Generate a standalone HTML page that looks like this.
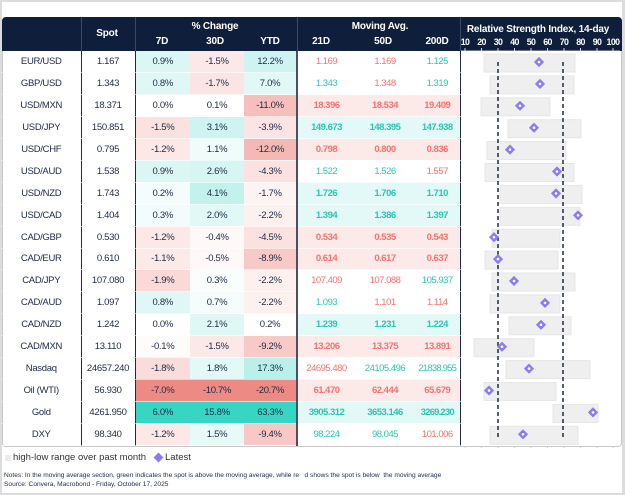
<!DOCTYPE html>
<html><head><meta charset="utf-8"><style>
*{margin:0;padding:0;box-sizing:border-box}
body{width:625px;height:495px;background:#fff;position:relative;overflow:hidden;font-family:"Liberation Sans",sans-serif;color:#1e2a44}
.frame{position:absolute;left:0;top:0;width:625px;height:495px;border:2px solid #dcdcdc;border-right-width:3px}
.box{position:absolute;left:2px;top:17px;width:620px;height:430px;border:1px solid #c8c8c8;border-radius:4px;overflow:hidden}
.hdr{position:absolute;left:2px;top:17px;width:620px;height:34px;background:#0f1f3b;border-radius:4px 4px 0 0}
.h{position:absolute;color:#fff;font-weight:bold;font-size:10px;transform:translateX(-50%);white-space:nowrap;letter-spacing:-0.2px}
.t{font-size:8.8px;letter-spacing:-0.6px;top:37px}
table{position:absolute;left:2px;top:51px;width:458px;border-collapse:collapse;table-layout:fixed;font-size:9.5px;letter-spacing:-0.3px}
td{height:21.9px;text-align:center;padding:0;white-space:nowrap;border-bottom:1px solid rgba(255,255,255,.6)}
td.c1{border-right:1.5px solid #1e2a44}
td.c2{border-right:1.5px solid #1e2a44}
td.c5{border-right:2px solid #4a5060}
td.c8{border-right:1.5px solid #1e2a44}
td.m{letter-spacing:-0.5px}
.g{color:#2ec4b2}.r{color:#f07470}
.b td.m{font-weight:bold}
.note{position:absolute;left:4px;font-size:6.6px;color:#1e2a50;white-space:nowrap}
</style></head><body>
<div class="frame"></div>
<div class="box"></div>
<div class="hdr"></div>
<div class="h" style="left:107px;top:28px">Spot</div>
<div class="h" style="left:215px;top:21px">% Change</div>
<div class="h" style="left:162px;top:36px">7D</div>
<div class="h" style="left:215px;top:36px">30D</div>
<div class="h" style="left:270px;top:36px">YTD</div>
<div class="h" style="left:380px;top:21px">Moving Avg.</div>
<div class="h" style="left:321px;top:36px">21D</div>
<div class="h" style="left:383px;top:36px">50D</div>
<div class="h" style="left:437px;top:36px">200D</div>
<div class="h" style="left:538px;top:24px">Relative Strength Index, 14-day</div>
<div class="h t" style="left:465px">10</div>
<div class="h t" style="left:481.5px">20</div>
<div class="h t" style="left:498px">30</div>
<div class="h t" style="left:514.5px">40</div>
<div class="h t" style="left:531px">50</div>
<div class="h t" style="left:547.5px">60</div>
<div class="h t" style="left:564px">70</div>
<div class="h t" style="left:580.5px">80</div>
<div class="h t" style="left:597px">90</div>
<div class="h t" style="left:613px">100</div>
<div style="position:absolute;left:81px;top:17px;width:1px;height:34px;background:#3a4a66"></div>
<div style="position:absolute;left:135px;top:17px;width:1px;height:34px;background:#3a4a66"></div>
<div style="position:absolute;left:297px;top:17px;width:1px;height:34px;background:#3a4a66"></div>
<div style="position:absolute;left:460px;top:17px;width:1px;height:34px;background:#3a4a66"></div>

<table>
<colgroup><col style="width:79px"><col style="width:54px"><col style="width:55px"><col style="width:54px"><col style="width:53px"><col style="width:58px"><col style="width:60px"><col style="width:45px"></colgroup>
<tr><td class="c1">EUR/USD</td><td class="c2">1.167</td><td style="background:rgba(56,212,196,.18)">0.9%</td><td style="background:rgba(238,138,132,.2)">-1.5%</td><td class="c5" style="background:rgba(56,212,196,.25)">12.2%</td><td class="m r">1.169</td><td class="m r">1.169</td><td class="m g c8">1.125</td></tr>
<tr><td class="c1">GBP/USD</td><td class="c2">1.343</td><td style="background:rgba(56,212,196,.16)">0.8%</td><td style="background:rgba(238,138,132,.22)">-1.7%</td><td class="c5" style="background:rgba(56,212,196,.15)">7.0%</td><td class="m g">1.343</td><td class="m r">1.348</td><td class="m g c8">1.319</td></tr>
<tr class="b"><td class="c1">USD/MXN</td><td class="c2">18.371</td><td>0.0%</td><td>0.1%</td><td class="c5" style="background:rgba(238,138,132,.55)">-11.0%</td><td class="m r" style="background:rgba(238,138,132,.18)">18.396</td><td class="m r" style="background:rgba(238,138,132,.18)">18.534</td><td class="m r c8" style="background:rgba(238,138,132,.18)">19.409</td></tr>
<tr class="b"><td class="c1">USD/JPY</td><td class="c2">150.851</td><td style="background:rgba(238,138,132,.25)">-1.5%</td><td style="background:rgba(56,212,196,.25)">3.1%</td><td class="c5" style="background:rgba(238,138,132,.22)">-3.9%</td><td class="m g" style="background:rgba(56,212,196,.14)">149.673</td><td class="m g" style="background:rgba(56,212,196,.14)">148.395</td><td class="m g c8" style="background:rgba(56,212,196,.14)">147.938</td></tr>
<tr class="b"><td class="c1">USD/CHF</td><td class="c2">0.795</td><td style="background:rgba(238,138,132,.2)">-1.2%</td><td style="background:rgba(56,212,196,.08)">1.1%</td><td class="c5" style="background:rgba(238,138,132,.6)">-12.0%</td><td class="m r" style="background:rgba(238,138,132,.18)">0.798</td><td class="m r" style="background:rgba(238,138,132,.18)">0.800</td><td class="m r c8" style="background:rgba(238,138,132,.18)">0.836</td></tr>
<tr><td class="c1">USD/AUD</td><td class="c2">1.538</td><td style="background:rgba(56,212,196,.18)">0.9%</td><td style="background:rgba(56,212,196,.2)">2.6%</td><td class="c5" style="background:rgba(238,138,132,.25)">-4.3%</td><td class="m g">1.522</td><td class="m g">1.526</td><td class="m r c8">1.557</td></tr>
<tr class="b"><td class="c1">USD/NZD</td><td class="c2">1.743</td><td style="background:rgba(56,212,196,.05)">0.2%</td><td style="background:rgba(56,212,196,.3)">4.1%</td><td class="c5" style="background:rgba(238,138,132,.1)">-1.7%</td><td class="m g" style="background:rgba(56,212,196,.14)">1.726</td><td class="m g" style="background:rgba(56,212,196,.14)">1.706</td><td class="m g c8" style="background:rgba(56,212,196,.14)">1.710</td></tr>
<tr class="b"><td class="c1">USD/CAD</td><td class="c2">1.404</td><td style="background:rgba(56,212,196,.06)">0.3%</td><td style="background:rgba(56,212,196,.15)">2.0%</td><td class="c5" style="background:rgba(238,138,132,.12)">-2.2%</td><td class="m g" style="background:rgba(56,212,196,.14)">1.394</td><td class="m g" style="background:rgba(56,212,196,.14)">1.386</td><td class="m g c8" style="background:rgba(56,212,196,.14)">1.397</td></tr>
<tr class="b"><td class="c1">CAD/GBP</td><td class="c2">0.530</td><td style="background:rgba(238,138,132,.2)">-1.2%</td><td style="background:rgba(238,138,132,.05)">-0.4%</td><td class="c5" style="background:rgba(238,138,132,.25)">-4.5%</td><td class="m r" style="background:rgba(238,138,132,.18)">0.534</td><td class="m r" style="background:rgba(238,138,132,.18)">0.535</td><td class="m r c8" style="background:rgba(238,138,132,.18)">0.543</td></tr>
<tr class="b"><td class="c1">CAD/EUR</td><td class="c2">0.610</td><td style="background:rgba(238,138,132,.18)">-1.1%</td><td style="background:rgba(238,138,132,.06)">-0.5%</td><td class="c5" style="background:rgba(238,138,132,.45)">-8.9%</td><td class="m r" style="background:rgba(238,138,132,.18)">0.614</td><td class="m r" style="background:rgba(238,138,132,.18)">0.617</td><td class="m r c8" style="background:rgba(238,138,132,.18)">0.637</td></tr>
<tr><td class="c1">CAD/JPY</td><td class="c2">107.080</td><td style="background:rgba(238,138,132,.32)">-1.9%</td><td style="background:rgba(56,212,196,.03)">0.3%</td><td class="c5" style="background:rgba(238,138,132,.12)">-2.2%</td><td class="m r">107.409</td><td class="m r">107.088</td><td class="m g c8">105.937</td></tr>
<tr><td class="c1">CAD/AUD</td><td class="c2">1.097</td><td style="background:rgba(56,212,196,.16)">0.8%</td><td style="background:rgba(56,212,196,.05)">0.7%</td><td class="c5" style="background:rgba(238,138,132,.12)">-2.2%</td><td class="m g">1.093</td><td class="m r">1.101</td><td class="m r c8">1.114</td></tr>
<tr class="b"><td class="c1">CAD/NZD</td><td class="c2">1.242</td><td>0.0%</td><td style="background:rgba(56,212,196,.16)">2.1%</td><td class="c5">0.2%</td><td class="m g" style="background:rgba(56,212,196,.14)">1.239</td><td class="m g" style="background:rgba(56,212,196,.14)">1.231</td><td class="m g c8" style="background:rgba(56,212,196,.14)">1.224</td></tr>
<tr class="b"><td class="c1">CAD/MXN</td><td class="c2">13.110</td><td style="background:rgba(238,138,132,.03)">-0.1%</td><td style="background:rgba(238,138,132,.2)">-1.5%</td><td class="c5" style="background:rgba(238,138,132,.45)">-9.2%</td><td class="m r" style="background:rgba(238,138,132,.18)">13.206</td><td class="m r" style="background:rgba(238,138,132,.18)">13.375</td><td class="m r c8" style="background:rgba(238,138,132,.18)">13.891</td></tr>
<tr><td class="c1">Nasdaq</td><td class="c2">24657.240</td><td style="background:rgba(238,138,132,.3)">-1.8%</td><td style="background:rgba(56,212,196,.14)">1.8%</td><td class="c5" style="background:rgba(56,212,196,.35)">17.3%</td><td class="m r">24695.480</td><td class="m g">24105.496</td><td class="m g c8" style="letter-spacing:-0.8px">21838.955</td></tr>
<tr class="b"><td class="c1">Oil (WTI)</td><td class="c2">56.930</td><td style="background:rgb(238,138,132)">-7.0%</td><td style="background:rgb(238,138,132)">-10.7%</td><td class="c5" style="background:rgb(238,138,132)">-20.7%</td><td class="m r" style="background:rgba(238,138,132,.18)">61.470</td><td class="m r" style="background:rgba(238,138,132,.18)">62.444</td><td class="m r c8" style="background:rgba(238,138,132,.18)">65.679</td></tr>
<tr class="b"><td class="c1">Gold</td><td class="c2">4261.950</td><td style="background:rgb(56,212,196)">6.0%</td><td style="background:rgb(56,212,196)">15.8%</td><td class="c5" style="background:rgb(56,212,196)">63.3%</td><td class="m g" style="background:rgba(56,212,196,.14)">3905.312</td><td class="m g" style="background:rgba(56,212,196,.14)">3653.146</td><td class="m g c8" style="background:rgba(56,212,196,.14);letter-spacing:-0.8px">3269.230</td></tr>
<tr><td class="c1">DXY</td><td class="c2">98.340</td><td style="background:rgba(238,138,132,.2)">-1.2%</td><td style="background:rgba(56,212,196,.12)">1.5%</td><td class="c5" style="background:rgba(238,138,132,.47)">-9.4%</td><td class="m g">98.224</td><td class="m g">98.045</td><td class="m r c8">101.006</td></tr>
</table>

<svg style="position:absolute;left:0;top:0" width="625" height="495">
<defs><g id="d"><rect x="-3.6" y="-3.6" width="7.2" height="7.2" transform="rotate(45)" fill="#8a7cf2"/><circle r="1.3" fill="#fff"/></g></defs>
<g stroke="#fff" stroke-width="0.8"><line x1="461" y1="51" x2="620" y2="51"/>
<path d="M465 48v3M481.5 48v3M498 48v3M514.5 48v3M531 48v3M547.5 48v3M564 48v3M580.5 48v3M597 48v3M613 48v3"/></g>
<g fill="#efefef" stroke="#e6e6e6" stroke-width="1">
<rect x="484" y="54" width="91" height="18"/>
<rect x="490" y="75.9" width="84" height="18"/>
<rect x="481" y="97.8" width="69" height="18"/>
<rect x="508" y="119.7" width="73" height="18"/>
<rect x="487" y="141.6" width="79" height="18"/>
<rect x="485" y="163.5" width="89" height="18"/>
<rect x="500" y="185.4" width="82" height="18"/>
<rect x="500" y="207.3" width="80" height="18"/>
<rect x="492" y="229.2" width="68" height="18"/>
<rect x="485" y="251.1" width="73" height="18"/>
<rect x="492" y="273" width="83" height="18"/>
<rect x="490" y="294.9" width="70" height="18"/>
<rect x="509" y="316.8" width="62" height="18"/>
<rect x="474" y="338.7" width="60" height="18"/>
<rect x="506" y="360.6" width="84" height="18"/>
<rect x="484" y="382.5" width="72" height="18"/>
<rect x="553" y="404.4" width="45" height="18"/>
<rect x="490" y="426.3" width="88" height="18"/>
</g>
<g stroke="#1e2a44" stroke-width="1.5" stroke-dasharray="4,3">
<line x1="498" y1="62" x2="498" y2="440"/><line x1="563" y1="62" x2="563" y2="440"/></g>
<use href="#d" x="539" y="62"/><use href="#d" x="540" y="83.9"/><use href="#d" x="520" y="105.8"/>
<use href="#d" x="534" y="127.7"/><use href="#d" x="510" y="149.6"/><use href="#d" x="557" y="171.5"/>
<use href="#d" x="556" y="193.4"/><use href="#d" x="578" y="215.3"/><use href="#d" x="494" y="237.2"/>
<use href="#d" x="498" y="259.1"/><use href="#d" x="514" y="281"/><use href="#d" x="545" y="302.9"/>
<use href="#d" x="541" y="324.8"/><use href="#d" x="502" y="346.7"/><use href="#d" x="529" y="368.6"/>
<use href="#d" x="489" y="390.5"/><use href="#d" x="593" y="412.4"/><use href="#d" x="523" y="434.3"/>
<g stroke="#ccc" stroke-width="1"><path d="M465 446v2M481.5 446v2M498 446v2M514.5 446v2M531 446v2M547.5 446v2M564 446v2M580.5 446v2M597 446v2M613 446v2"/></g>
<rect x="5" y="455" width="6" height="6" fill="#ececec"/>
<rect x="155" y="454" width="7" height="7" transform="rotate(45 158.5 457.5)" fill="#8a7cf2"/>
</svg>
<div style="position:absolute;left:13px;top:452px;font-size:9.5px;color:#333">high-low range over past month</div>
<div style="position:absolute;left:165px;top:452px;font-size:9.5px;color:#333">Latest</div>
<div class="note" style="top:472px">Notes: In the moving average section, green indicates the spot is above the moving average, while re&nbsp;&nbsp;&nbsp;d shows the spot is below&nbsp; the moving average</div>
<div class="note" style="top:481px">Source: Convera, Macrobond - Friday, October 17, 2025</div>
</body></html>
